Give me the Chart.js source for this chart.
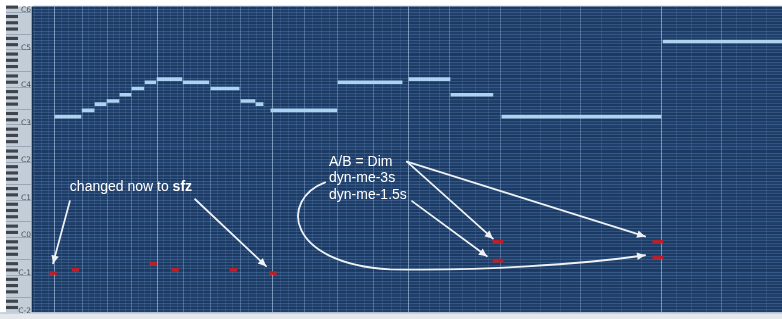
<!DOCTYPE html>
<html>
<head>
<meta charset="utf-8">
<script src="https://cdn.jsdelivr.net/npm/chart.js@4.4.0/dist/chart.umd.min.js"></script>
<style>
  html, body { margin: 0; padding: 0; background: #fff; }
  #wrap { width: 782px; height: 319px; position: relative; }
</style>
</head>
<body>
<div id="wrap"><canvas id="roll"></canvas></div>
<script>
// time in seconds, pitch as MIDI note number (Cubase naming, C3 = 60)
const beatTimes = [0.73, 1.64, 2.47, 3.30, 4.14, 5.04, 5.91, 6.91, 7.98, 9.05, 10.18, 11.35, 12.55, 13.89, 15.62, 18.29, 20.99, 22.99];
const beatsPerBar = 4;

// melody notes
const noteStarts  = [0.73, 1.64, 2.07, 2.47, 2.90, 3.30, 3.74, 4.14, 5.01, 5.94, 6.94, 7.44, 7.94, 10.18, 12.55, 13.95, 15.65, 21.03];
const noteEnds    = [1.60, 2.04, 2.44, 2.87, 3.27, 3.70, 4.10, 4.97, 5.87, 6.88, 7.41, 7.68, 10.14, 12.32, 13.92, 15.35, 20.96, 25.00];
const notePitches = [62, 64, 66, 67, 69, 71, 73, 74, 73, 71, 67, 66, 64, 73, 74, 69, 62, 86];

// key switch notes (red)
const switchStarts  = [0.55, 1.30, 3.89, 4.63, 6.57, 7.89, 15.35, 15.35, 20.69, 20.69];
const switchEnds    = [0.78, 1.53, 4.12, 4.86, 6.80, 8.12, 15.69, 15.69, 21.03, 21.03];
const switchPitches = [12, 13, 15, 13, 13, 12, 22, 16, 22, 17];

const octaveLabels = ['C-2', 'C-1', 'C0', 'C1', 'C2', 'C3', 'C4', 'C5', 'C6'];

// annotations, in [time, pitch]
const textLines = [
  { t: 9.88, p: 46.1, text: 'A/B = Dim' },
  { t: 9.88, p: 41.0, text: 'dyn-me-3s' },
  { t: 9.88, p: 35.6, text: 'dyn-me-1.5s' }
];
const sfzNote = { t: 1.23, p: 38.2, text: 'changed now to ', bold: 'sfz' };
const arrows = [
  [1.23, 35.0, 0.67, 15.1],
  [5.41, 35.6, 7.78, 14.2],
  [12.48, 47.6, 15.35, 23.0],
  [12.48, 47.6, 20.43, 23.7],
  [12.65, 35.0, 15.15, 17.35]
];
// loop arrow: start, then two cubic segments (c1, c2, end)
const loopArrow = [
  [9.75, 41.0],
  [8.24, 35.6], [8.41, 15.1], [11.92, 13.2],
  [14.92, 12.6], [18.26, 14.8], [20.43, 17.7]
];

const tMax = 25;
const pMin = -0.6, pMax = 97.2;

// grid: beats, bar lines and 16th subdivisions
const gridTimes = [];
const gridLevels = [];
const first = beatTimes[1] - beatTimes[0];
for (let k = 3; k >= 1; k--) { gridTimes.push(beatTimes[0] - k * first / 4); gridLevels.push(0); }
beatTimes.forEach((b, i) => {
    gridTimes.push(b);
    gridLevels.push(i % beatsPerBar === 0 ? 2 : 1);
    const next = i < beatTimes.length - 1 ? beatTimes[i + 1] : tMax;
    for (let k = 1; k <= 3; k++) { gridTimes.push(b + k * (next - b) / 4); gridLevels.push(0); }
});
const gridColors = ['rgba(120,160,210,0.16)', 'rgba(150,185,225,0.38)', 'rgba(180,208,238,0.6)'];

const isBlack = p => [1, 3, 6, 8, 10].includes(((p % 12) + 12) % 12);

const pianoRoll = {
    id: 'pianoRoll',
    beforeDraw(chart) {
        const { ctx, chartArea: a, scales: { y } } = chart;
        ctx.save();
        ctx.fillStyle = '#20406c';
        ctx.fillRect(a.left, a.top, a.right - a.left, a.bottom - a.top);

        // rows
        for (let p = 0; p <= 97; p++) {
            const top = y.getPixelForValue(p + 0.5), bot = y.getPixelForValue(p - 0.5);
            if (isBlack(p)) {
                ctx.fillStyle = 'rgba(10,30,60,0.22)';
                ctx.fillRect(a.left, top, a.right - a.left, bot - top);
            }
            ctx.strokeStyle = 'rgba(110,150,200,0.28)';
            ctx.lineWidth = 1;
            ctx.beginPath();
            ctx.moveTo(a.left, Math.round(top) + 0.5);
            ctx.lineTo(a.right, Math.round(top) + 0.5);
            ctx.stroke();
        }

        // keyboard
        const kx = 6, kw = a.left - 2 - kx;
        ctx.fillStyle = '#c3cdd8';
        ctx.fillRect(kx, a.top, kw, a.bottom - a.top);
        for (let p = -1; p <= 98; p++) {
            const top = y.getPixelForValue(p + 0.5), bot = y.getPixelForValue(p - 0.5);
            if (isBlack(p)) {
                ctx.fillStyle = '#3f444c';
                ctx.fillRect(kx, top, 12, bot - top);
            } else if (p % 12 === 4 || p % 12 === 11) {
                ctx.fillStyle = '#9aa6b4';
                ctx.fillRect(kx, Math.round(top), kw, 1);
            }
        }
        ctx.fillStyle = '#8fa0b4';
        ctx.fillRect(a.left - 2, a.top, 1, a.bottom - a.top);
        ctx.fillStyle = '#173153';
        ctx.fillRect(a.left - 1, a.top, 1, a.bottom - a.top);

        // strip below the roll
        ctx.fillStyle = '#e4e8ec';
        ctx.fillRect(0, a.bottom, chart.width, chart.height - a.bottom);
        ctx.fillStyle = '#a9bccf';
        ctx.fillRect(0, a.bottom, chart.width, 1);
        ctx.restore();
    },
    afterDatasetsDraw(chart) {
        const { ctx, scales: { x, y } } = chart;
        const px = v => x.getPixelForValue(v), py = v => y.getPixelForValue(v);
        ctx.save();
        ctx.strokeStyle = '#eef2f6';
        ctx.fillStyle = '#eef2f6';
        ctx.lineWidth = 1.8;
        ctx.lineCap = 'round';

        const head = (x1, y1, x0, y0) => {
            const ang = Math.atan2(y1 - y0, x1 - x0), len = 8, w = 3.8;
            ctx.beginPath();
            ctx.moveTo(x1, y1);
            ctx.lineTo(x1 - len * Math.cos(ang) + w * Math.sin(ang), y1 - len * Math.sin(ang) - w * Math.cos(ang));
            ctx.lineTo(x1 - len * Math.cos(ang) - w * Math.sin(ang), y1 - len * Math.sin(ang) + w * Math.cos(ang));
            ctx.closePath();
            ctx.fill();
        };

        arrows.forEach(([t0, p0, t1, p1]) => {
            const x0 = px(t0), y0 = py(p0), x1 = px(t1), y1 = py(p1);
            ctx.beginPath();
            ctx.moveTo(x0, y0);
            ctx.lineTo(x1, y1);
            ctx.stroke();
            head(x1, y1, x0, y0);
        });

        const L = loopArrow.map(([t, p]) => [px(t), py(p)]);
        ctx.beginPath();
        ctx.moveTo(L[0][0], L[0][1]);
        ctx.bezierCurveTo(L[1][0], L[1][1], L[2][0], L[2][1], L[3][0], L[3][1]);
        ctx.bezierCurveTo(L[4][0], L[4][1], L[5][0], L[5][1], L[6][0], L[6][1]);
        ctx.stroke();
        head(L[6][0], L[6][1], L[5][0], L[5][1]);

        ctx.fillStyle = '#ffffff';
        ctx.textBaseline = 'alphabetic';
        ctx.font = '14px "Liberation Sans", Arial, sans-serif';
        textLines.forEach(l => ctx.fillText(l.text, px(l.t), py(l.p)));
        const sx = px(sfzNote.t), sy = py(sfzNote.p);
        ctx.fillText(sfzNote.text, sx, sy);
        const w = ctx.measureText(sfzNote.text).width;
        ctx.font = 'bold 14px "Liberation Sans", Arial, sans-serif';
        ctx.fillText(sfzNote.bold, sx + w, sy);
        ctx.restore();
    }
};

new Chart(document.getElementById('roll'), {
    type: 'bar',
    data: {
        datasets: [
            {
                label: 'notes',
                data: noteStarts.map((s, i) => ({ y: notePitches[i], x: [s, noteEnds[i]] })),
                backgroundColor: '#acd3f2',
                borderWidth: 0,
                barThickness: 3,
                grouped: false
            },
            {
                label: 'key switches',
                data: switchStarts.map((s, i) => ({ y: switchPitches[i], x: [s, switchEnds[i]] })),
                backgroundColor: '#b8202c',
                borderWidth: 0,
                barThickness: 3,
                grouped: false
            }
        ]
    },
    options: {
        indexAxis: 'y',
        responsive: true,
        maintainAspectRatio: false,
        animation: false,
        layout: { padding: { left: 6, top: 5, right: 0, bottom: 4 } },
        plugins: { legend: { display: false }, tooltip: { enabled: false } },
        scales: {
            x: {
                type: 'linear',
                min: 0,
                max: tMax,
                offset: false,
                afterBuildTicks: s => { s.ticks = gridTimes.map(v => ({ value: v })); },
                ticks: { display: false },
                grid: {
                    drawTicks: false,
                    offset: false,
                    color: c => gridColors[gridLevels[c.index]] || gridColors[0],
                    lineWidth: 1
                },
                border: { display: false },
                afterFit: s => { s.height = 0; }
            },
            y: {
                type: 'linear',
                min: pMin,
                max: pMax,
                offset: false,
                afterBuildTicks: s => { s.ticks = octaveLabels.map((_, i) => ({ value: i * 12 })); },
                ticks: {
                    autoSkip: false,
                    callback: (v, i) => octaveLabels[i],
                    font: { size: 7.5, family: 'DejaVu Sans' },
                    color: '#4a525c',
                    padding: 2
                },
                grid: { display: false, offset: false, drawTicks: false },
                border: { display: false },
                afterFit: s => { s.width = 27; }
            }
        }
    },
    plugins: [pianoRoll]
});
</script>
</body>
</html>
